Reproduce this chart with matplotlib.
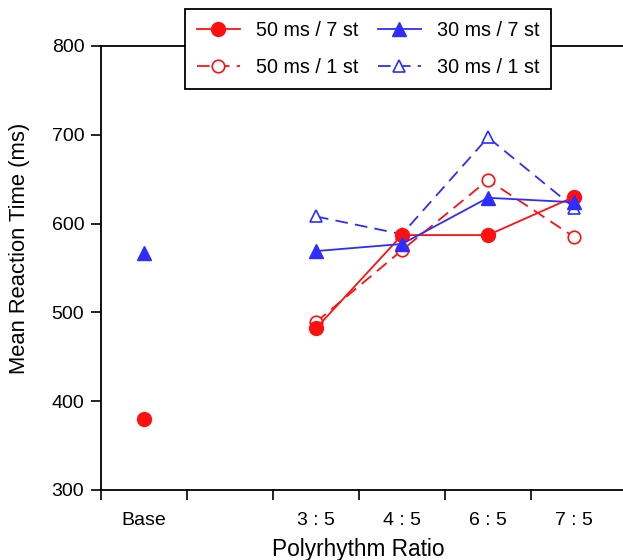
import matplotlib
matplotlib.use('Agg')
import matplotlib.pyplot as plt
import numpy as np

# Polyrhythm reaction-time data (ms)
ratio_labels = ['Base', '3 : 5', '4 : 5', '6 : 5', '7 : 5']
ratio_pos = [0.5, 2.5, 3.5, 4.5, 5.5]

rt_50_7 = [380, 482, 587, 587, 630]
rt_50_1 = [None, 489, 570, 649, 585]
rt_30_7 = [567, 569, 577, 629, 624]
rt_30_1 = [None, 608, 588, 697, 618]

RED = '#ff1010'
BLUE = '#2d2dff'

plt.rcParams['font.family'] = ['Liberation Sans', 'DejaVu Sans']

fig = plt.figure(figsize=(6.23, 5.6), dpi=100)
ax = fig.add_axes([0.1621, 0.125, 0.8379, 0.793])

def series(vals):
    # the Base value is plotted on its own, not joined to the ratio points
    x = np.array(ratio_pos[1:], dtype=float)
    y = np.array(vals[1:], dtype=float)
    return x, y

lw = 1.3
dash = (7, 4)

x, y = series(rt_50_7)
h1, = ax.plot(x, y, '-', color=RED, lw=lw, marker='o', ms=10, mfc=RED, mec=RED,
              label='50 ms / 7 st', zorder=3)
ax.plot(ratio_pos[0], rt_50_7[0], 'o', color=RED, ms=10, zorder=3)

x, y = series(rt_50_1)
h2, = ax.plot(x, y, '--', dashes=dash, color=RED, lw=lw, marker='o', ms=9,
              mfc='white', mec=RED, mew=1.2, label='50 ms / 1 st', zorder=2)

x, y = series(rt_30_7)
h3, = ax.plot(x, y, '-', color=BLUE, lw=lw, marker='^', ms=10, mfc=BLUE, mec=BLUE,
              label='30 ms / 7 st', zorder=3)
ax.plot(ratio_pos[0], rt_30_7[0], '^', color=BLUE, ms=10, zorder=3)

x, y = series(rt_30_1)
h4, = ax.plot(x, y, '--', dashes=dash, color=BLUE, lw=lw, marker='^', ms=9,
              mfc='white', mec=BLUE, mew=1.2, label='30 ms / 1 st', zorder=2)

ax.set_xlim(0, 6.07)
ax.set_ylim(300, 800)
ax.set_yticks(range(300, 801, 100))
ax.set_xticks(range(0, 6))
ax.set_xticklabels([])
ax.set_xticks(ratio_pos, minor=True)
ax.set_xticklabels(ratio_labels, minor=True)

ax.tick_params(axis='both', which='major', direction='out', length=7, width=1.2,
               labelsize=14, pad=5)
ax.tick_params(axis='x', which='minor', length=0, labelsize=14, pad=16)

for s in ['left', 'bottom', 'top']:
    ax.spines[s].set_linewidth(1.3)
ax.spines['right'].set_visible(False)

ax.set_xlabel('Polyrhythm Ratio', fontsize=16.3)
ax.set_ylabel('Mean Reaction Time (ms)', fontsize=15.8)
ax.xaxis.set_label_coords(0.492, -0.108)
ax.yaxis.set_label_coords(-0.136, 0.545)

leg = ax.legend(handles=[h1, h2, h3, h4], ncol=2, loc='center',
                bbox_to_anchor=(368 / 623, 1 - 49 / 560), bbox_transform=fig.transFigure,
                fontsize=14.2, frameon=True, fancybox=False, framealpha=1,
                edgecolor='black', handlelength=2.2, columnspacing=1.0,
                labelspacing=0.95, handletextpad=0.8, borderpad=0.6)
leg.get_frame().set_linewidth(1.3)
leg.set_zorder(10)

fig.savefig('out.png', dpi=100, facecolor='white')
